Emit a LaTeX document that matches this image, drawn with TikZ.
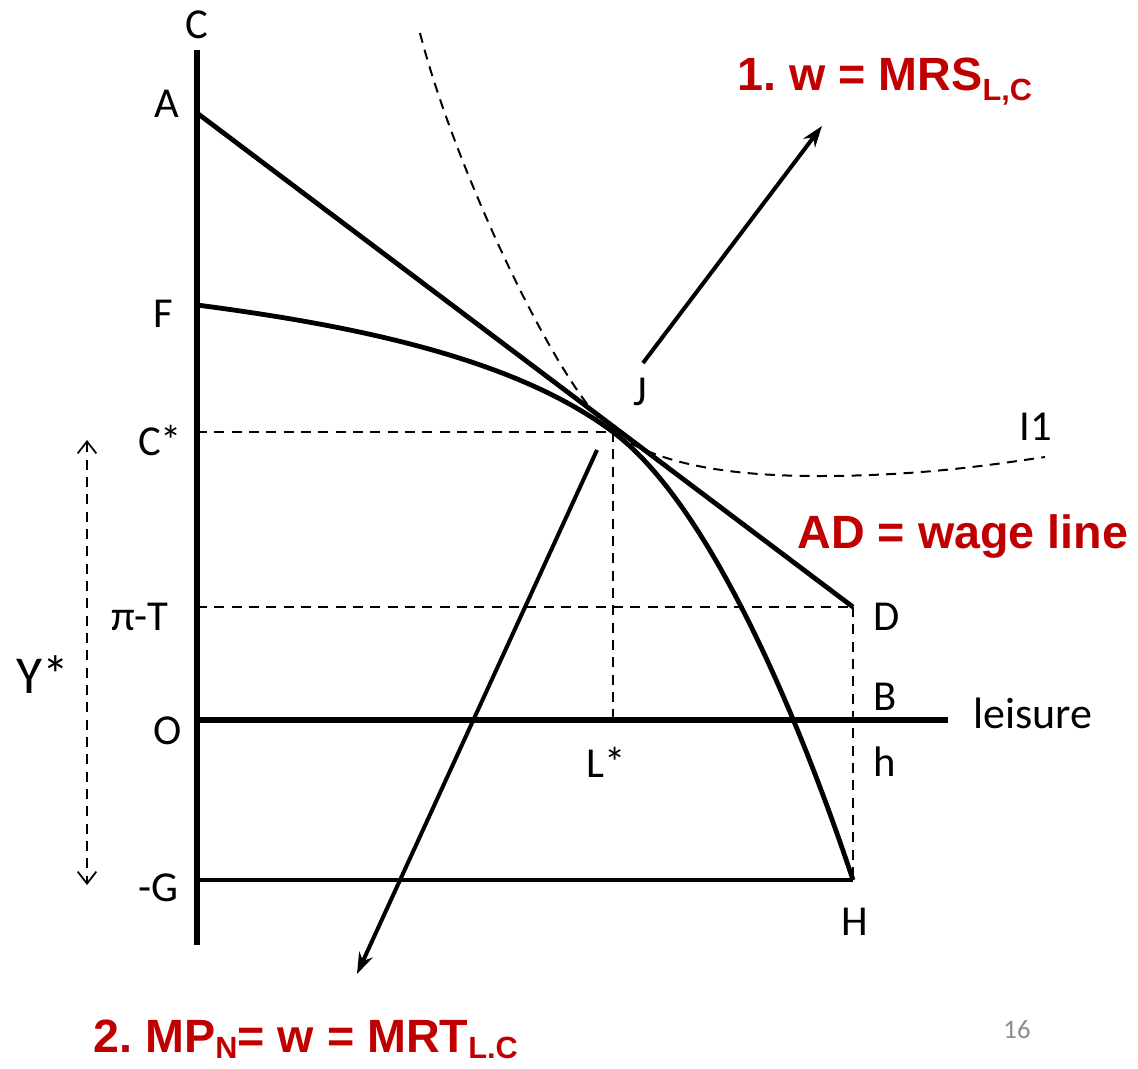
\documentclass[tikz,border=0pt]{standalone}
\usepackage{fontspec}
\setmainfont{Carlito}
\newfontfamily\redfont{Liberation Sans}
\usetikzlibrary{arrows.meta}
\definecolor{dred}{RGB}{192,0,0}
\definecolor{pgray}{RGB}{140,140,140}
\tikzset{
  lbl/.style={font=\fontsize{32}{32}\selectfont, inner sep=0pt},
  redlbl/.style={font=\redfont\bfseries\fontsize{35}{35}\selectfont, text=dred, inner sep=0pt},
  thick axis/.style={line width=3.8pt},
  mainline/.style={line width=3.6pt},
  thinline/.style={line width=2.3pt},
  dash line/.style={line width=1.5pt, dash pattern=on 7.5pt off 5.5pt},
  arrowline/.style={line width=3pt, -{Stealth[length=16pt,width=11pt]}},
}
\begin{document}
\begin{tikzpicture}[x=0.75pt,y=-0.75pt]
\useasboundingbox (0,0) rectangle (1138,1068);
% coordinates
\coordinate (Ctop) at (197,50);
\coordinate (Cbot) at (197,945);
\coordinate (A) at (197,113);
\coordinate (D) at (853,607);
\coordinate (F) at (197,305);
\coordinate (J) at (613,432);
\coordinate (H) at (853,880);
\coordinate (Gl) at (197,880);
\coordinate (O) at (197,720);
\coordinate (Lend) at (948,720);
\coordinate (Cst) at (197,432);
\coordinate (PT) at (197,607);
\coordinate (Lst) at (613,720);
\coordinate (I0) at (420,33);
\coordinate (Imin) at (818,476);
\coordinate (I1e) at (1045,457);
\coordinate (Ya) at (87,440);
\coordinate (Yb) at (87,885);
\coordinate (a1s) at (643,363);
\coordinate (a1e) at (822,126);
\coordinate (a2s) at (597,450);
\coordinate (a2e) at (357,974);
% axes
\draw[thick axis] (Ctop) -- (Cbot);
\draw[thick axis] (O) -- (Lend);
% wage line
\draw[mainline] (A) -- (D);
% PPF
\draw[mainline] (F) .. controls (350,325) and (513,357) .. (J)
                   .. controls (713,507) and (803,730) .. (H);
% -G line
\draw[thinline] (Gl) -- (H);
% dashed helpers
\draw[dash line] (Cst) -- (J);
\draw[dash line] (J) -- (Lst);
\draw[dash line] (PT) -- (D);
\draw[dash line] (D) -- (H);
% indifference curve
\draw[dash line] (I0) .. controls (455,170) and (560,392) .. (J)
   .. controls (660,467) and (740,476) .. (Imin)
   .. controls (920,476) and (990,465) .. (I1e);
% Y* arrow
\draw[dash line, {Straight Barb[length=9pt,width=14pt,line width=1.3pt]}-{Straight Barb[length=9pt,width=14pt,line width=1.3pt]}] (Ya) -- (Yb);
% arrows
\draw[arrowline] (a1s) -- (a1e);
\draw[arrowline] (a2s) -- (a2e);
% labels
\node[lbl] (lC) at (197,25) {C};
\node[lbl] (lA) at (167,104) {A};
\node[lbl] (lF) at (163,314) {F};
\node[lbl] (lCs) at (160,440) {C*};
\node[lbl] (lJ) at (640,392) {J};
\node[lbl] (lI1) at (1036,427) {I1};
\node[lbl] (lPT) at (140,617) {π-T};
\node[lbl] (lD) at (887,617) {D};
\node[lbl, font=\fontsize{40}{40}\selectfont] (lY) at (43,675) {Y*};
\node[lbl] (lO) at (168,731) {O};
\node[lbl] (lB) at (885,697) {B};
\node[lbl, font=\fontsize{33}{33}\selectfont] (lleis) at (1033,713) {leisure};
\node[lbl] (lh) at (885,762) {h};
\node[lbl] (lL) at (606,762) {L*};
\node[lbl] (lG) at (158,888) {-G};
\node[lbl] (lH) at (855,922) {H};
\node[font=\fontsize{20}{20}\selectfont, text=pgray, inner sep=0pt] (pg) at (1017,1030) {16};
\node[redlbl, anchor=base west] (r1) at (737,90) {1.\hspace{-3pt} w = MRS\raisebox{-8pt}{\fontsize{23}{23}\selectfont L,C}};
\node[redlbl] (r3) at (963,537) {AD = wage line};
\node[redlbl, anchor=base west] (r2) at (93,1052) {2.\hspace{-3pt} MP\raisebox{-5pt}{\fontsize{23}{23}\selectfont N}= w = MRT\raisebox{-5pt}{\fontsize{23}{23}\selectfont L.C}};
\end{tikzpicture}
\end{document}
